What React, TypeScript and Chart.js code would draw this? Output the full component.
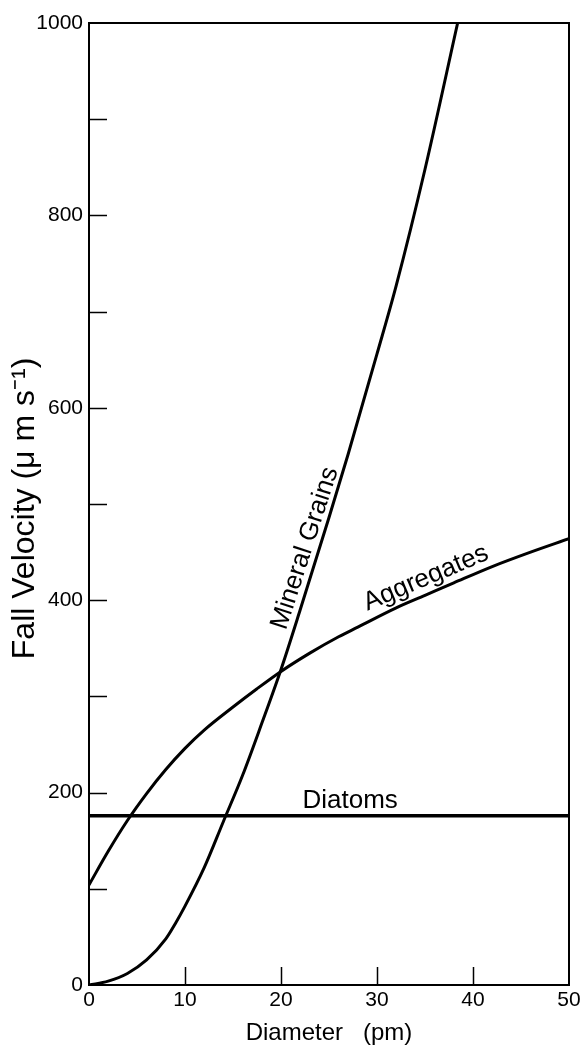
import React, { useEffect, useRef } from 'react';
import { Chart, registerables } from 'chart.js';

Chart.register(...registerables);

// Diameter (x) and fall velocity (y)
const mineralX = [0, 2, 4, 6, 8, 9, 10, 12, 14, 16, 18, 20, 22, 25, 27, 30, 32, 35, 38.4];
const mineralY = [0, 4, 12, 26, 48, 64, 82, 122, 170, 218, 272, 328, 390, 486, 552, 656, 727, 848, 1000];

const aggregatesX = [0, 2, 4, 6, 8, 10, 12, 15, 17.5, 20, 23, 26, 28, 32, 35, 38, 42, 46, 50];
const aggregatesY = [104, 139, 171, 199, 224, 246, 265, 289, 308, 326, 345, 362, 372, 392, 405, 418, 435, 450, 464];

const diatomsX = [0, 50];
const diatomsY = [176, 176];

const xTickValues = [0, 10, 20, 30, 40, 50];
const yMinorTicks = [100, 200, 300, 400, 500, 600, 700, 800, 900];
const yLabelStep = 200;

const seriesNames = ['Mineral Grains', 'Aggregates', 'Diatoms'];

const FONT = "'Liberation Sans', Arial, Helvetica, sans-serif";

// Curve label anchors (data coordinates) and rotation in degrees
const curveLabels = [
  { text: seriesNames[0], x: 22.5, y: 454, angle: -72 },
  { text: seriesNames[1], x: 35.1, y: 423, angle: -23 },
  { text: seriesNames[2], x: 27.2, y: 191, angle: 0 },
];

const toPoints = (xs: number[], ys: number[]) => xs.map((x, i) => ({ x, y: ys[i] }));

const framePlugin = {
  id: 'frameAndLabels',
  afterDraw(chart: any) {
    const { ctx, chartArea, scales } = chart;
    const { left, right, top, bottom } = chartArea;
    const xs = scales.x;
    const ys = scales.y;
    ctx.save();
    ctx.strokeStyle = '#000';
    ctx.lineWidth = 2;
    ctx.strokeRect(left, top, right - left, bottom - top);
    ctx.lineWidth = 1.5;
    ctx.beginPath();
    yMinorTicks.forEach((v) => {
      const py = Math.round(ys.getPixelForValue(v)) + 0.5;
      ctx.moveTo(left, py);
      ctx.lineTo(left + 18, py);
    });
    xTickValues.slice(1, -1).forEach((v) => {
      const px = Math.round(xs.getPixelForValue(v)) + 0.5;
      ctx.moveTo(px, bottom);
      ctx.lineTo(px, bottom - 18);
    });
    ctx.stroke();

    ctx.fillStyle = '#000';
    ctx.font = `26px ${FONT}`;
    ctx.textAlign = 'center';
    ctx.textBaseline = 'middle';
    curveLabels.forEach((l) => {
      const px = xs.getPixelForValue(l.x);
      const py = ys.getPixelForValue(l.y);
      ctx.save();
      ctx.translate(px, py);
      ctx.rotate((l.angle * Math.PI) / 180);
      ctx.fillText(l.text, 0, 0);
      ctx.restore();
    });
    ctx.restore();
  },
};

export default function App() {
  const canvasRef = useRef<HTMLCanvasElement | null>(null);

  useEffect(() => {
    const canvas = canvasRef.current;
    if (!canvas) return;
    const lineStyle = {
      borderColor: '#000',
      backgroundColor: '#000',
      pointRadius: 0,
      fill: false,
      cubicInterpolationMode: 'monotone' as const,
    };
    const chart = new Chart(canvas, {
      type: 'line',
      data: {
        datasets: [
          { label: seriesNames[0], data: toPoints(mineralX, mineralY), borderWidth: 3, ...lineStyle },
          { label: seriesNames[1], data: toPoints(aggregatesX, aggregatesY), borderWidth: 3, ...lineStyle },
          { label: seriesNames[2], data: toPoints(diatomsX, diatomsY), borderWidth: 3.5, ...lineStyle },
        ],
      },
      options: {
        animation: false,
        responsive: false,
        devicePixelRatio: 1,
        layout: { padding: { top: 23, right: 15, left: 0, bottom: 0 } },
        plugins: { legend: { display: false }, tooltip: { enabled: false } },
        scales: {
          x: {
            type: 'linear',
            min: 0,
            max: 50,
            afterFit: (s: any) => { s.height = 63; },
            afterBuildTicks: (s: any) => { s.ticks = xTickValues.map((v) => ({ value: v })); },
            ticks: {
              color: '#000',
              font: { family: FONT, size: 21 },
              padding: 3,
              maxRotation: 0,
              autoSkip: false,
              callback: (v: any) => String(v),
            },
            grid: { display: false, drawTicks: false },
            border: { display: false },
            title: {
              display: true,
              text: 'Diameter   (pm)',
              color: '#000',
              font: { family: FONT, size: 24 },
              padding: { top: 0, bottom: 0 },
            },
          },
          y: {
            type: 'linear',
            min: 0,
            max: 1000,
            afterFit: (s: any) => { s.width = 89; },
            ticks: {
              stepSize: yLabelStep,
              color: '#000',
              font: { family: FONT, size: 21 },
              padding: 6,
              callback: (v: any) => String(v),
            },
            grid: { display: false, drawTicks: false },
            border: { display: false },
            title: {
              display: true,
              text: 'Fall Velocity (μ m s⁻¹) ',
              color: '#000',
              font: { family: FONT, size: 32 },
              padding: { top: 6, bottom: 0 },
            },
          },
        },
      },
      plugins: [framePlugin],
    });
    return () => chart.destroy();
  }, []);

  return (
    <div style={{ position: 'absolute', left: 0, top: 0, width: 584, height: 1048, background: '#fff' }}>
      <canvas ref={canvasRef} width={584} height={1048} style={{ display: 'block' }} />
    </div>
  );
}
